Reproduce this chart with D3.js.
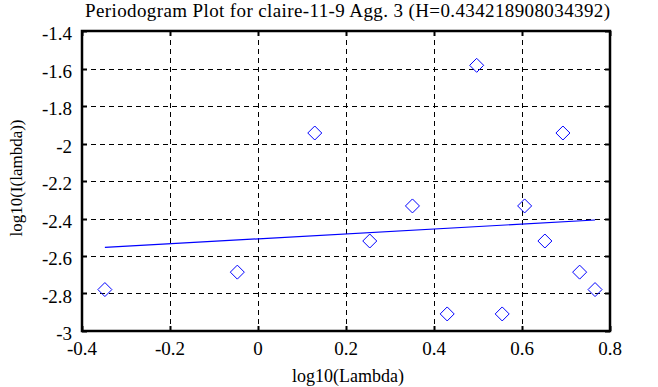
<!DOCTYPE html>
<html>
<head>
<meta charset="utf-8">
<script src="https://cdn.jsdelivr.net/npm/d3@7"></script>
<style>
  body { margin: 0; background: #fff; }
</style>
</head>
<body>
<script>
// donnees
var titre = "Periodogram Plot for claire-11-9 Agg. 3 (H=0.434218908034392)";
var logLambda = [-0.348, -0.047, 0.129, 0.254, 0.351, 0.430, 0.497, 0.555, 0.606, 0.652, 0.693, 0.731, 0.766];
var logI = [-2.779, -2.686, -1.944, -2.520, -2.333, -2.909, -1.583, -2.909, -2.333, -2.520, -1.944, -2.686, -2.779];
var fitX = [-0.348, 0.766];
var fitY = [-2.554, -2.408];
var xTicks = [-0.4, -0.2, 0, 0.2, 0.4, 0.6, 0.8];
var yTicks = [-3, -2.8, -2.6, -2.4, -2.2, -2, -1.8, -1.6, -1.4];

var W = 658, H = 387;
var mLeft = 82, mRight = 610, mTop = 31, mBottom = 331;
var police = "'Liberation Serif', 'Times New Roman', 'DejaVu Serif', serif";

var svg = d3.select("body").append("svg").attr("width", W).attr("height", H);

var x = d3.scaleLinear().domain([-0.4, 0.8]).range([mLeft, mRight]);
var y = d3.scaleLinear().domain([-3, -1.4]).range([mBottom, mTop]);

// grille en pointilles
svg.selectAll("line.gx").data(xTicks.slice(1, -1)).enter().append("line")
    .attr("x1", d => Math.round(x(d)) + 0.5).attr("x2", d => Math.round(x(d)) + 0.5)
    .attr("y1", mTop).attr("y2", mBottom)
    .attr("stroke", "#000").attr("stroke-dasharray", "5,4");
svg.selectAll("line.gy").data(yTicks.slice(1, -1)).enter().append("line")
    .attr("y1", d => Math.round(y(d)) + 0.5).attr("y2", d => Math.round(y(d)) + 0.5)
    .attr("x1", mLeft).attr("x2", mRight)
    .attr("stroke", "#000").attr("stroke-dasharray", "5,4");

// petits traits des graduations (interieur du cadre)
xTicks.forEach(function(d) {
    var xx = Math.round(x(d)) + 0.5;
    svg.append("line").attr("x1", xx).attr("x2", xx).attr("y1", mBottom).attr("y2", mBottom - 5).attr("stroke", "#000").attr("stroke-width", 2);
    svg.append("line").attr("x1", xx).attr("x2", xx).attr("y1", mTop).attr("y2", mTop + 5).attr("stroke", "#000").attr("stroke-width", 2);
});
yTicks.forEach(function(d) {
    var yy = Math.round(y(d)) + 0.5;
    svg.append("line").attr("x1", mLeft).attr("x2", mLeft + 5).attr("y1", yy).attr("y2", yy).attr("stroke", "#000").attr("stroke-width", 2);
    svg.append("line").attr("x1", mRight).attr("x2", mRight - 5).attr("y1", yy).attr("y2", yy).attr("stroke", "#000").attr("stroke-width", 2);
});

// cadre
svg.append("rect").attr("x", mLeft).attr("y", mTop).attr("width", mRight - mLeft).attr("height", mBottom - mTop)
    .attr("fill", "none").attr("stroke", "#000").attr("stroke-width", 2.5);

// droite de regression
var ligne = d3.line().x(d => x(d[0])).y(d => y(d[1]));
svg.append("path").datum(d3.zip(fitX, fitY)).attr("d", ligne)
    .attr("fill", "none").attr("stroke", "#0000ff").attr("stroke-width", 1.2);

// losanges
var r = 7;
svg.selectAll("path.pt").data(d3.zip(logLambda, logI)).enter().append("path")
    .attr("d", function(d) {
        var cx = x(d[0]), cy = y(d[1]);
        return "M" + cx + "," + (cy - r) + "L" + (cx + r) + "," + cy + "L" + cx + "," + (cy + r) + "L" + (cx - r) + "," + cy + "Z";
    })
    .attr("fill", "none").attr("stroke", "#0000ff").attr("stroke-width", 1);

// etiquettes
var fmt = d => String(+d.toFixed(1));
svg.selectAll("text.xt").data(xTicks).enter().append("text")
    .attr("x", d => x(d)).attr("y", mBottom + 24).attr("text-anchor", "middle")
    .attr("font-family", police).attr("font-size", 19).text(fmt);
svg.selectAll("text.yt").data(yTicks).enter().append("text")
    .attr("x", mLeft - 10).attr("y", d => y(d) + 9).attr("text-anchor", "end")
    .attr("font-family", police).attr("font-size", 19).text(fmt);

svg.append("text").attr("x", 347.5).attr("y", 17).attr("text-anchor", "middle")
    .attr("font-family", police).attr("font-size", 19)
    .attr("textLength", 525).attr("lengthAdjust", "spacing").text(titre);
svg.append("text").attr("x", 348).attr("y", 382).attr("text-anchor", "middle")
    .attr("font-family", police).attr("font-size", 18).text("log10(Lambda)");
svg.append("text").attr("transform", "translate(22,178) rotate(-90)").attr("text-anchor", "middle")
    .attr("font-family", police).attr("font-size", 17).text("log10(I(lambda))");
</script>
</body>
</html>
